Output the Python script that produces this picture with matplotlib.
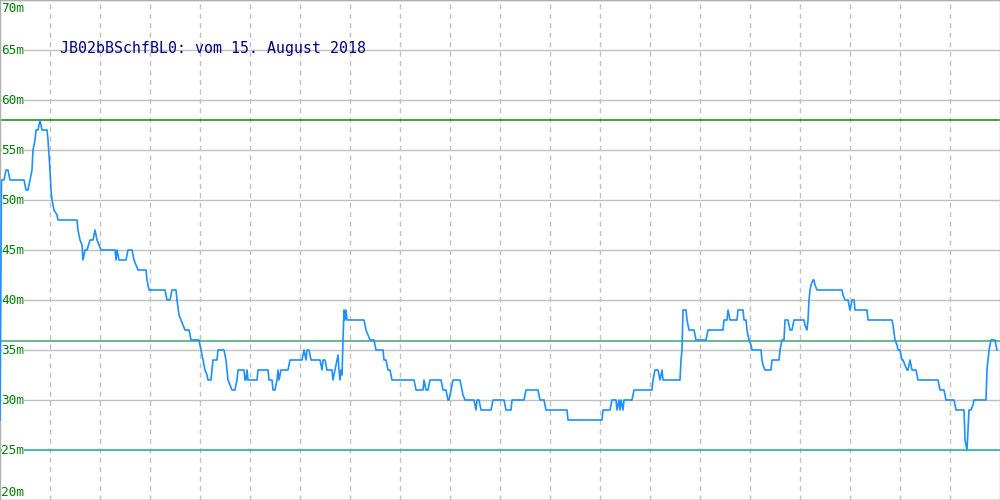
import matplotlib
matplotlib.use('Agg')
import matplotlib.pyplot as plt

matplotlib.rcParams.update({
    'font.family': ['DejaVu Sans Mono', 'DejaVu Sans'],
    'lines.scale_dashes': False,
})

# level trace: sample index -> metres
sample = [0, 1.5, 4, 6, 8, 10, 24, 26, 28, 30, 32, 33, 35, 36, 38, 40, 42, 47, 48, 50, 51, 52, 54, 57, 58,
          77, 78, 80, 82, 83, 85, 87, 90, 93, 95, 97, 99, 101, 115, 116, 117, 119, 126, 128, 132, 134, 136,
          138, 146, 147, 149, 165, 167, 170, 172, 176, 177, 179, 181, 183, 185, 189, 191, 199,
          201, 202, 203, 205, 207, 208, 211, 212, 213, 217, 218, 224, 226, 227, 228, 230, 232, 235, 237,
          238, 244, 245, 246, 247, 248, 257, 258, 268, 269, 272, 273, 275, 277, 278, 279, 281, 288, 290,
          302, 304, 306, 307, 309, 311, 320, 322, 323, 325, 327, 332, 333, 335, 337, 338, 339, 340, 341,
          342, 343, 344, 345, 346, 347, 364, 366, 368, 370, 374, 376, 383, 384, 386, 388, 390, 392, 414,
          416, 423, 424, 426, 428, 430, 441, 443, 446, 448, 449, 451, 453, 460, 462, 463, 465, 474, 476,
          477, 479, 481, 491, 493, 504, 506, 511, 512, 524, 526, 538, 540, 544, 546, 567, 568, 602, 603,
          610, 612, 616, 617, 619, 620, 621, 623, 624, 632, 634, 652, 653, 655, 658, 660, 662, 663, 680,
          681, 682, 683, 686, 687, 689, 694, 696, 706, 708, 723, 724, 727, 728, 730, 737, 738, 743, 744,
          746, 747, 749, 751, 752, 761, 762, 763, 765, 771, 772, 779, 780, 782, 784, 785, 787, 788, 790,
          792, 794, 804, 805, 807, 808, 809, 810, 811, 813, 814, 815, 817, 842, 843, 845, 848, 850, 852,
          854, 855, 867, 868, 892, 893, 895, 897, 898, 900, 902, 903, 905, 907, 908, 910, 912, 916, 918,
          938, 940, 944, 946, 954, 956, 964, 965, 967, 968, 969, 971, 973, 974, 986, 987, 989, 990, 991,
          994, 995, 997]
level = [28, 52, 52, 53, 53, 52, 52, 51, 51, 52, 53, 55, 56, 57, 57, 58, 57, 57, 56, 53, 51, 50, 49, 48.5, 48,
         48, 47, 46, 45.5, 44, 45, 45, 46, 46, 47, 46, 45.5, 45, 45, 44, 45, 44, 44, 45, 45, 44, 43.5,
         43, 43, 42, 41, 41, 40, 40, 41, 41, 40, 38.5, 38, 37.5, 37, 37, 36, 36,
         35, 34.5, 34, 33, 32.5, 32, 32, 33, 34, 34, 35, 35, 34, 33, 32, 31.5, 31, 31, 32,
         33, 33, 32, 32, 33, 32, 32, 33, 33, 32, 32, 31, 31, 32, 33, 32, 33, 33, 34,
         34, 35, 34, 35, 35, 34, 34, 33, 34, 34, 33, 33, 32, 33, 34, 34.5, 33, 32, 33,
         32.5, 36, 39, 38, 39, 38, 38, 37, 36.5, 36, 36, 35, 35, 34, 34, 33, 33, 32, 32,
         31, 31, 32, 31, 31, 32, 32, 31, 31, 30, 30, 31, 32, 32, 31, 30.5, 30, 30, 29,
         30, 30, 29, 29, 30, 30, 29, 29, 30, 30, 31, 31, 30, 30, 29, 29, 28, 28, 29,
         29, 30, 30, 29, 30, 29, 30, 29, 30, 30, 31, 31, 32, 33, 33, 32, 33, 32, 32,
         34, 35, 39, 39, 38, 37, 37, 36, 36, 37, 37, 38, 38, 39, 38, 38, 39, 39, 38,
         38, 37, 36, 35.5, 35, 35, 34, 33.5, 33, 33, 34, 34, 35, 36, 36, 38, 38, 38, 37,
         37, 38, 38, 37.5, 37, 38, 40, 41, 41.5, 42, 42, 41.5, 41, 41, 40.5, 40, 40, 39, 40,
         40, 39, 39, 38, 38, 37.5, 36, 35.5, 35, 35, 34, 34, 33.5, 33, 33, 34, 33, 33, 32,
         32, 31, 31, 30, 30, 29, 29, 26, 25, 27, 29, 29, 29.5, 30, 30, 33, 35, 35.5, 36,
         36, 36, 35]

title = 'JB02bBSchfBL0: vom 15. August 2018'
y_ticks = [20, 25, 30, 35, 40, 45, 50, 55, 60, 65, 70]
x_ticks = list(range(50, 1000, 50))
limit_lines = [(58, '#108a10'), (35.9, '#44a070'), (25, '#20b2aa')]

fig = plt.figure(figsize=(10, 5), dpi=100)
ax = fig.add_axes([0, 0, 1, 1])
ax.set_xlim(0, 1000)
ax.set_ylim(20, 70)

for x in x_ticks:
    ax.axvline(x, color='#c0c0c0', lw=1.0, linestyle=(0, (3.6, 3.2)), zorder=1)
for v in y_ticks:
    ax.axhline(v, color='#c0c0c0', lw=1.0, zorder=1)
for v, c in limit_lines:
    ax.axhline(v, color=c, lw=1.1, zorder=2)

for v in y_ticks:
    if v == 70:
        va, yy = 'top', 69.8
    elif v == 20:
        va, yy = 'bottom', 20.1
    else:
        va, yy = 'center', v - 0.1
    ax.text(1.5, yy, f'{v}m', color='#008000', fontsize=9.2, va=va, ha='left', zorder=3,
            bbox=dict(facecolor='white', edgecolor='none', pad=0))

ax.plot(sample, level, color='#1e90ff', lw=1.2, zorder=4)

ax.text(60, 65.2, title, color='#000080', fontsize=10.7, va='center', ha='left', zorder=5)

ax.set_xticks([]); ax.set_yticks([])
for s in ax.spines.values():
    s.set_color('#b0b0b0')
    s.set_linewidth(1.0)

plt.savefig('out.png', dpi=100)
